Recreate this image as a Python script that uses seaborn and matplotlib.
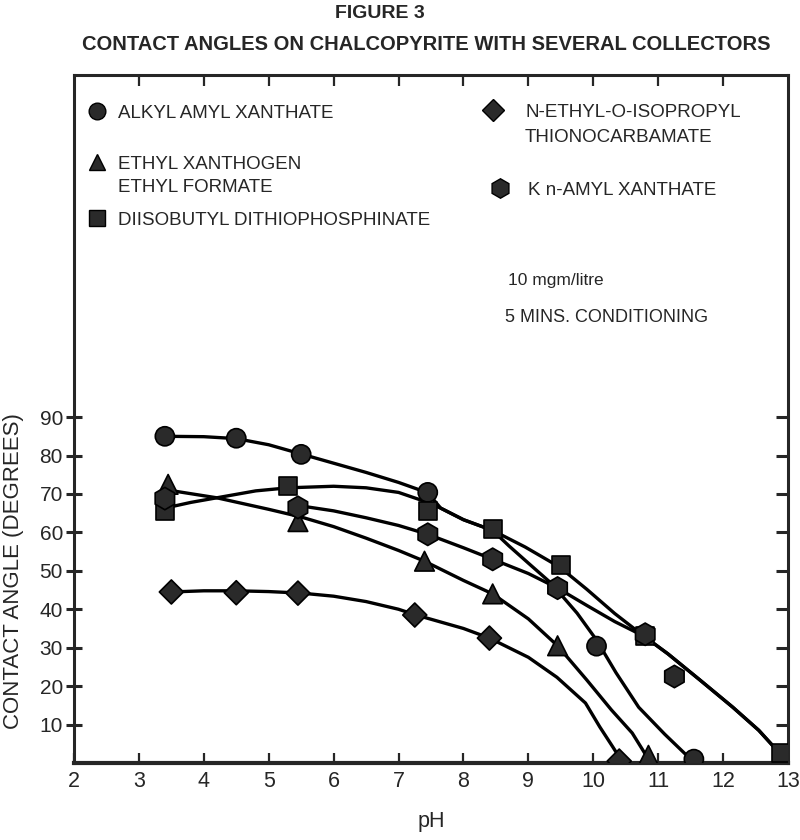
import matplotlib
matplotlib.use("Agg")
import matplotlib.pyplot as plt
import seaborn as sns
import pandas as pd
from matplotlib.lines import Line2D

sns.set_style("ticks")
plt.rcParams["font.family"] = ["Liberation Sans", "DejaVu Sans"]

# measured points (pH, contact angle in degrees)
alkyl_ph = [3.4, 4.5, 5.5, 7.45, 10.05, 11.55]
alkyl_deg = [85.0, 84.5, 80.3, 70.4, 30.4, 1.0]
ethyl_ph = [3.45, 5.45, 7.4, 8.45, 9.45, 10.85]
ethyl_deg = [72.5, 62.8, 52.5, 44.0, 30.5, 2.0]
diiso_ph = [3.4, 5.3, 7.45, 8.45, 9.5, 10.8, 12.9]
diiso_deg = [65.5, 72.0, 65.5, 60.8, 51.5, 33.0, 2.5]
thiono_ph = [3.5, 4.5, 5.45, 7.25, 8.4, 10.4]
thiono_deg = [44.5, 44.3, 44.2, 38.5, 32.5, 0.5]
kamyl_ph = [3.4, 5.45, 7.45, 8.45, 9.45, 10.8, 11.25]
kamyl_deg = [68.8, 66.5, 59.5, 53.0, 45.5, 33.5, 22.5]

# hand drawn trend curves
alkyl_curve_ph = [3.4, 4.0, 4.5, 5.0, 5.5, 6.0, 6.5, 7.0, 7.45, 7.65, 8.0, 8.45,
                  8.7, 9.0, 9.35, 9.75, 10.05, 10.35, 10.7, 11.1, 11.5]
alkyl_curve_deg = [85.0, 84.9, 84.4, 82.8, 80.4, 78.0, 75.6, 73.0, 70.3, 66.3, 63.3, 60.5,
                   56.5, 52.0, 46.8, 39.0, 32.0, 23.5, 14.5, 7.5, 1.0]
ethyl_curve_ph = [3.45, 4.2, 5.0, 5.5, 6.0, 6.5, 7.0, 7.4, 8.0, 8.45, 9.0, 9.45,
                  9.9, 10.28, 10.6, 10.85]
ethyl_curve_deg = [71.0, 69.0, 66.0, 64.0, 61.5, 58.5, 55.3, 52.5, 47.5, 44.0, 37.5, 30.5,
                   21.6, 13.8, 7.8, 1.0]
diiso_curve_ph = [3.45, 3.8, 4.2, 4.8, 5.3, 6.0, 6.5, 7.0, 7.45, 7.65, 8.0, 8.45,
                  8.95, 9.48, 9.9, 10.33, 10.78, 11.15, 11.65, 12.15, 12.55, 12.9]
diiso_curve_deg = [66.5, 67.8, 69.0, 70.8, 71.6, 72.0, 71.6, 70.4, 67.8, 66.3, 63.3, 60.5,
                   56.2, 51.0, 45.2, 38.9, 33.0, 28.4, 21.5, 14.5, 8.5, 2.0]
thiono_curve_ph = [3.5, 4.0, 4.5, 5.0, 5.5, 6.0, 6.5, 7.0, 7.25, 8.0, 8.4, 9.0,
                   9.44, 9.88, 10.1, 10.3, 10.42]
thiono_curve_deg = [44.5, 44.8, 44.8, 44.6, 44.2, 43.4, 42.0, 40.0, 38.6, 35.0, 32.5, 27.5,
                    22.3, 15.6, 9.4, 4.2, 1.0]
kamyl_curve_ph = [5.45, 6.0, 6.5, 7.0, 7.45, 8.0, 8.45, 9.0, 9.45, 9.9, 10.33, 10.78,
                  11.15, 11.65, 12.15, 12.55, 12.9]
kamyl_curve_deg = [67.0, 65.6, 63.8, 61.8, 59.5, 56.0, 53.0, 49.3, 45.5, 41.0, 36.8, 33.0,
                   28.4, 21.5, 14.5, 8.5, 2.0]

collectors = ["ALKYL AMYL XANTHATE", "ETHYL XANTHOGEN ETHYL FORMATE",
              "DIISOBUTYL DITHIOPHOSPHINATE", "N-ETHYL-O-ISOPROPYL THIONOCARBAMATE",
              "K n-AMYL XANTHATE"]
markers = dict(zip(collectors, ["o", "^", "s", "D", "h"]))
marker_sizes = dict(zip(collectors, [190, 200, 170, 150, 260]))

points = pd.concat([
    pd.DataFrame({"pH": x, "angle": y, "collector": c})
    for c, x, y in zip(collectors,
                       [alkyl_ph, ethyl_ph, diiso_ph, thiono_ph, kamyl_ph],
                       [alkyl_deg, ethyl_deg, diiso_deg, thiono_deg, kamyl_deg])
])
curves = pd.concat([
    pd.DataFrame({"pH": x, "angle": y, "collector": c})
    for c, x, y in zip(collectors,
                       [alkyl_curve_ph, ethyl_curve_ph, diiso_curve_ph, thiono_curve_ph, kamyl_curve_ph],
                       [alkyl_curve_deg, ethyl_curve_deg, diiso_curve_deg, thiono_curve_deg, kamyl_curve_deg])
])

W, H = 800, 840
fig = plt.figure(figsize=(W / 100, H / 100), dpi=100)
ax = fig.add_axes([74 / W, 77 / H, 714 / W, 688 / H])

sns.lineplot(data=curves, x="pH", y="angle", units="collector", estimator=None, sort=False,
             color="black", lw=2.4, ax=ax, legend=False)
sns.scatterplot(data=points, x="pH", y="angle", style="collector", markers=markers,
                size="collector", sizes=marker_sizes,
                color="#2a2a2a", edgecolor="black", linewidth=1.2, ax=ax, legend=False, zorder=3)

ax.set_xlim(2, 13)
ax.set_ylim(0, 179)
ax.set_xticks(range(2, 14))
ax.set_yticks(range(10, 100, 10))
ax.tick_params(axis="x", direction="in", length=7, width=1.6, labelsize=15.5, pad=6)
ax.tick_params(axis="y", direction="inout", length=12, width=2.2, labelsize=15, pad=2)
for s in ax.spines.values():
    s.set_linewidth(2.2)
ax.spines["bottom"].set_linewidth(3)

top = ax.secondary_xaxis("top")
top.set_xticks(range(3, 13))
top.tick_params(direction="in", length=8, width=1.6, labeltop=False)
top.spines["top"].set_visible(False)
right = ax.secondary_yaxis("right")
right.set_yticks(range(10, 100, 10))
right.tick_params(direction="in", length=9, width=2.2, labelright=False)
right.spines["right"].set_visible(False)

ax.set_xlabel("pH", fontsize=15.5)
ax.set_ylabel("CONTACT ANGLE (DEGREES)", fontsize=16)
ax.xaxis.set_label_coords(0.501, -0.07)
ax.yaxis.set_label_coords(-0.07, 0.279)

# legend entries, one per collector
def key(label, marker, x, y, pad, size=12):
    h = Line2D([], [], marker=marker, ls="none", markersize=size,
               markerfacecolor="#2a2a2a", markeredgecolor="black")
    fig.legend(handles=[h], labels=[label], loc="center left",
               bbox_to_anchor=(x / W, 1 - y / H), frameon=False, fontsize=13.5,
               handlelength=1.2, handletextpad=pad, borderpad=0, borderaxespad=0)

key("ALKYL AMYL XANTHATE", "o", 86, 113, 0.5)
key("ETHYL XANTHOGEN", "^", 86, 164, 0.5)
key("DIISOBUTYL DITHIOPHOSPHINATE", "s", 86, 220, 0.5, 11)
key("N-ETHYL-O-ISOPROPYL", "D", 482, 112, 1.1, 11)
key("K n-AMYL XANTHATE", "h", 489, 190, 0.9, 14)
fig.text(118 / W, 1 - 187 / H, "ETHYL FORMATE", va="center", fontsize=13.5)
fig.text(525 / W, 1 - 137 / H, "THIONOCARBAMATE", va="center", fontsize=13.5)

fig.text(508 / W, 1 - 281 / H, "10 mgm/litre", va="center", fontsize=12.5)
fig.text(505 / W, 1 - 318 / H, "5 MINS. CONDITIONING", va="center", fontsize=13)

fig.text(380 / W, 1 - 14 / H, "FIGURE 3", ha="center", va="center", fontsize=14, weight="bold")
fig.text(426 / W, 1 - 45 / H, "CONTACT ANGLES ON CHALCOPYRITE WITH SEVERAL COLLECTORS",
         ha="center", va="center", fontsize=14.5, weight="bold")

fig.savefig("out.png", dpi=100)
